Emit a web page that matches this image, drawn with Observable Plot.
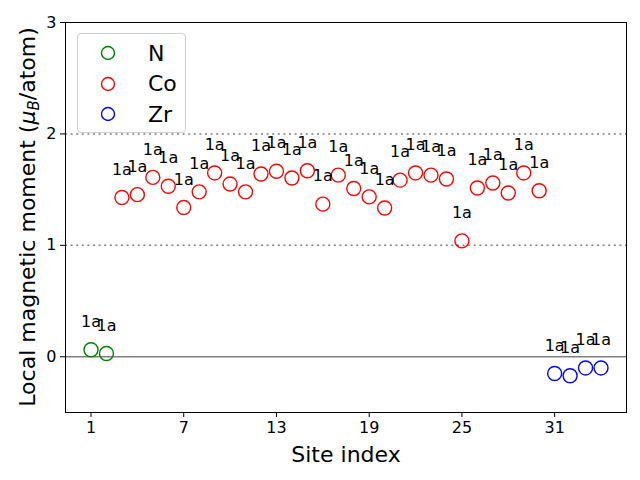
<!DOCTYPE html>
<html><head>
<meta charset="utf-8">
<script src="https://cdn.jsdelivr.net/npm/d3@7"></script>
<script src="https://cdn.jsdelivr.net/npm/@observablehq/plot@0.6"></script>
<style>
body{margin:0;background:white;font-family:"DejaVu Sans",sans-serif;}
#wrap{position:relative;width:640px;height:480px;}
#legend{position:absolute;left:77px;top:33px;width:107px;height:98px;border:1px solid #d0d0d0;border-radius:4px;background:rgba(255,255,255,0.85);}
#legend .row{position:absolute;left:0;height:30px;display:flex;align-items:center;font-size:22px;}
</style>
</head><body><div id="wrap"></div>
<script>
const sites = [1,2,3,4,5,6,7,8,9,10,11,12,13,14,15,16,17,18,19,20,21,22,23,24,25,26,27,28,29,30,31,32,33,34];
const elements = ["N","N",
  "Co","Co","Co","Co","Co","Co","Co","Co","Co","Co","Co","Co","Co","Co",
  "Co","Co","Co","Co","Co","Co","Co","Co","Co","Co","Co","Co","Co","Co",
  "Zr","Zr","Zr","Zr"];
const moments = [0.063,0.03,
  1.43,1.455,1.61,1.53,1.34,1.48,1.65,1.55,1.48,1.64,1.665,1.605,1.67,1.37,
  1.63,1.51,1.435,1.335,1.585,1.65,1.63,1.595,1.04,1.515,1.56,1.47,1.65,1.49,
  -0.15,-0.17,-0.10,-0.10];
const wyckoff = sites.map(() => "1a");
const legendNames = ["N","Co","Zr"];
const legendColors = ["green","red","blue"];
const xTicks = [1,7,13,19,25,31];
const yTicks = [0,1,2,3];
const guideLevels = [1,2];

const data = sites.map((s,i) => ({site:s, element:elements[i], moment:moments[i], label:wyckoff[i]}));

const chart = Plot.plot({
  width:640, height:480,
  marginLeft:65, marginRight:14, marginTop:22, marginBottom:68,
  style:{fontFamily:"DejaVu Sans", fontSize:"16px", background:"white", color:"black"},
  x:{domain:[-0.65,35.65]},
  y:{domain:[-0.5,3]},
  color:{domain:legendNames, range:legendColors},
  marks:[
    Plot.ruleY(guideLevels,{stroke:"#808080", strokeWidth:1.5, strokeDasharray:"2,3.6"}),
    Plot.ruleY([0],{stroke:"#808080", strokeWidth:1.5}),
    Plot.dot(data,{x:"site", y:"moment", stroke:"element", r:7, strokeWidth:1.4}),
    Plot.text(data,{x:"site", y:"moment", text:"label", dy:-28, fontSize:16, fill:"black"}),
    Plot.axisX({ticks:xTicks, tickSize:5, tickPadding:4, fontSize:16, label:null, tickFormat:d => String(d)}),
    Plot.axisY({ticks:yTicks, tickSize:5, tickPadding:4, fontSize:16, label:null, tickFormat:d => String(d)}),
    Plot.text(["Site index"],{frameAnchor:"bottom", lineAnchor:"middle", dy:42, fontSize:22, fill:"black"}),
    Plot.frame({stroke:"black", strokeWidth:1})
  ]
});
document.getElementById("wrap").appendChild(chart);

// y-axis label with italic μ and subscript B
const svg = d3.select(chart);
const yl = svg.append("text")
  .attr("transform","translate(35,217) rotate(-90)")
  .attr("text-anchor","middle")
  .attr("font-family","DejaVu Sans")
  .attr("font-size",22)
  .attr("fill","black");
yl.append("tspan").text("Local magnetic moment (");
yl.append("tspan").attr("font-style","italic").text("μ");
yl.append("tspan").attr("font-style","italic").attr("font-size",15).attr("dy",4).text("B");
yl.append("tspan").attr("dy",-4).text("/atom)");

// legend overlay
const leg = d3.select("#wrap").append("div").attr("id","legend");
legendNames.forEach((name,i) => {
  const row = leg.append("div").attr("class","row").style("top",(4 + i*30.5)+"px");
  const s = row.append("svg").attr("width",60).attr("height",30);
  s.append("circle").attr("cx",30).attr("cy",15).attr("r",6.5)
    .attr("fill","none").attr("stroke",legendColors[i]).attr("stroke-width",1.4);
  row.append("span").style("margin-left","10px").text(name);
});
</script>
</body></html>
